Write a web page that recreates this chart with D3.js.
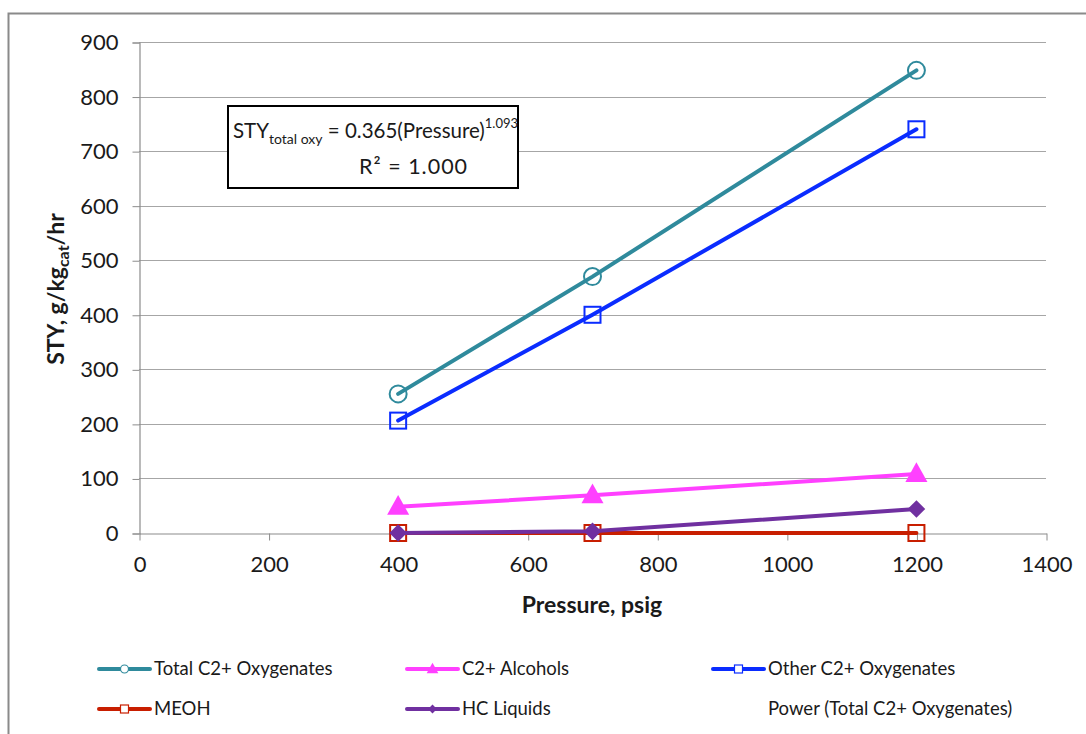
<!DOCTYPE html>
<html>
<head>
<meta charset="utf-8">
<script src="https://cdn.jsdelivr.net/npm/d3@7"></script>
<style>
  html, body { margin: 0; padding: 0; background: #fff; }
  svg text { font-family: Lato, "Open Sans", "Liberation Sans", sans-serif; fill: #1a1a1a; }
</style>
</head>
<body>
<svg id="chart" width="1086" height="734"></svg>
<script>
// Pressure levels (psig)
const pressure = [400, 700, 1200];

// Space-time yield, g/kg_cat/hr
const totalC2Oxy = [255, 470, 848];
const otherC2Oxy = [206, 400, 740];
const c2Alcohols = [48, 69, 108];
const meoh = [0, 0, 0];
const hcLiquids = [0, 3, 44];

const xTicks = [0, 200, 400, 600, 800, 1000, 1200, 1400];
const yTicks = [0, 100, 200, 300, 400, 500, 600, 700, 800, 900];

const series = [
  { name: "Total C2+ Oxygenates", values: totalC2Oxy, color: "#2f8a9c", marker: "circle" },
  { name: "C2+ Alcohols", values: c2Alcohols, color: "#ff40ff", marker: "triangle" },
  { name: "Other C2+ Oxygenates", values: otherC2Oxy, color: "#0a2cff", marker: "square" },
  { name: "MEOH", values: meoh, color: "#c81e00", marker: "square" },
  { name: "HC Liquids", values: hcLiquids, color: "#7030a0", marker: "diamond" },
  { name: "Power (Total C2+ Oxygenates)", values: null }
];

const svg = d3.select("#chart");

// outer chart frame
svg.append("path")
  .attr("d", "M8.5,734 V13.5 H1086")
  .attr("fill", "none").attr("stroke", "#8a8a8a").attr("stroke-width", 2);

const x = d3.scaleLinear().domain([0, 1400]).range([139, 1046]);
const y = d3.scaleLinear().domain([0, 900]).range([533, 42]);

// horizontal gridlines
svg.append("g").selectAll("line").data(yTicks.filter(d => d > 0)).join("line")
  .attr("x1", x(0)).attr("x2", x(1400))
  .attr("y1", d => Math.round(y(d)) + 0.5).attr("y2", d => Math.round(y(d)) + 0.5)
  .attr("stroke", "#a6a6a6").attr("stroke-width", 1.2);

// y axis
const yAxis = svg.append("g").attr("transform", `translate(${x(0) + 0.5},0.5)`)
  .call(d3.axisLeft(y).tickValues(yTicks).tickSize(7).tickPadding(14).tickFormat(d3.format("d")));
yAxis.select(".domain").attr("stroke", "#8c8c8c").attr("stroke-width", 1.2);
yAxis.selectAll(".tick line").attr("stroke", "#8c8c8c");
yAxis.selectAll(".tick text").attr("font-size", 22).attr("fill", "#1a1a1a");

// x axis
const xAxis = svg.append("g").attr("transform", `translate(0.5,${Math.round(y(0)) + 0.5})`)
  .call(d3.axisBottom(x).tickValues(xTicks).tickSize(7).tickSizeOuter(0).tickPadding(16).tickFormat(d3.format("d")));
xAxis.select(".domain").attr("stroke", "#8c8c8c").attr("stroke-width", 1.2);
xAxis.selectAll(".tick line").attr("stroke", "#8c8c8c");
xAxis.selectAll(".tick text").attr("font-size", 22).attr("fill", "#1a1a1a");

// axis titles
svg.append("text")
  .attr("x", 592).attr("y", 613).attr("text-anchor", "middle")
  .attr("font-size", 23).attr("font-weight", "bold").text("Pressure, psig");

const yTitle = svg.append("text")
  .attr("transform", "translate(64,289) rotate(-90)")
  .attr("text-anchor", "middle").attr("font-size", 23).attr("font-weight", "bold");
yTitle.append("tspan").text("STY, g/kg");
yTitle.append("tspan").attr("font-size", 16).attr("dy", 5).text("cat");
yTitle.append("tspan").attr("dy", -5).text("/hr");

// marker drawing
function drawMarker(g, type, color, cx, cy, s) {
  if (type === "circle") {
    g.append("circle").attr("cx", cx).attr("cy", cy).attr("r", s * 0.5)
      .attr("fill", "none").attr("stroke", color).attr("stroke-width", 2);
  } else if (type === "square") {
    g.append("rect").attr("x", cx - s / 2).attr("y", cy - s / 2).attr("width", s).attr("height", s)
      .attr("fill", "none").attr("stroke", color).attr("stroke-width", 2);
  } else if (type === "triangle") {
    const h = s;
    g.append("path")
      .attr("d", `M${cx},${cy - h * 0.62} L${cx + s * 0.58},${cy + h * 0.42} L${cx - s * 0.58},${cy + h * 0.42}Z`)
      .attr("fill", color);
  } else if (type === "diamond") {
    const r = s * 0.55;
    g.append("path")
      .attr("d", `M${cx},${cy - r} L${cx + r},${cy} L${cx},${cy + r} L${cx - r},${cy}Z`)
      .attr("fill", color);
  }
}

const line = d3.line().x((d, i) => x(pressure[i])).y(d => y(d));

// draw series back to front
const drawOrder = [3, 4, 1, 2, 0];
drawOrder.forEach(k => {
  const s = series[k];
  const g = svg.append("g");
  g.append("path").datum(s.values).attr("d", line)
    .attr("fill", "none").attr("stroke", s.color).attr("stroke-width", 4).attr("stroke-linecap", "round");
  s.values.forEach((v, i) => {
    const size = s.marker === "circle" ? 17 : s.marker === "triangle" ? 19 : 16;
    drawMarker(g, s.marker, s.color, x(pressure[i]), y(v), size);
  });
});

// fitted equation box
const eqBox = svg.append("g");
eqBox.append("rect").attr("x", 228).attr("y", 106).attr("width", 290).attr("height", 82)
  .attr("fill", "#fff").attr("stroke", "#000").attr("stroke-width", 2);
const eq1 = eqBox.append("text").attr("x", 233).attr("y", 138).attr("font-size", 20.5);
eq1.append("tspan").text("STY");
eq1.append("tspan").attr("font-size", 14).attr("dy", 6).text("total oxy");
eq1.append("tspan").attr("dy", -6).text(" = 0.365(Pressure)");
eq1.append("tspan").attr("font-size", 13).attr("dy", -10).text("1.093");
eqBox.append("text").attr("x", 359).attr("y", 174).attr("font-size", 21.5).attr("letter-spacing", 1)
  .text("R² = 1.000");

// legend
const legendPos = [
  { x: 99, y: 669 }, { x: 407, y: 669 }, { x: 713, y: 669 },
  { x: 99, y: 709 }, { x: 407, y: 709 }, { x: 713, y: 709 }
];
series.forEach((s, i) => {
  const p = legendPos[i];
  const g = svg.append("g");
  if (s.values) {
    g.append("line").attr("x1", p.x).attr("x2", p.x + 51).attr("y1", p.y).attr("y2", p.y)
      .attr("stroke", s.color).attr("stroke-width", 4).attr("stroke-linecap", "round");
    const ms = s.marker === "triangle" ? 10 : 8;
    drawMarker(g, s.marker, s.color, p.x + 25.5, p.y, ms);
    g.selectAll("circle,rect").attr("fill", "#fff").attr("stroke-width", 1.2);
  }
  g.append("text").attr("x", p.x + 55).attr("y", p.y + 6).attr("font-size", 18.5).text(s.name);
});
</script>
</body>
</html>
